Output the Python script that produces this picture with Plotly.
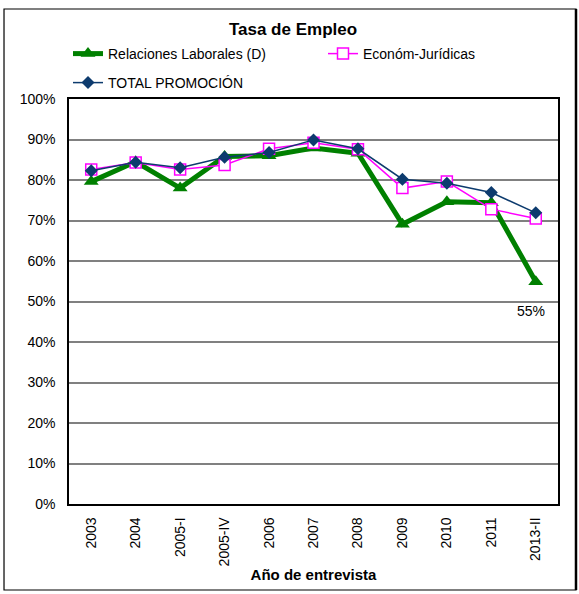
import plotly.graph_objects as go

categories = ["2003", "2004", "2005-I", "2005-IV", "2006", "2007", "2008",
              "2009", "2010", "2011", "2013-II"]
relaciones_laborales = [0.796, 0.845, 0.780, 0.858, 0.860, 0.879, 0.866,
                        0.691, 0.746, 0.744, 0.549]
econom_juridicas = [0.826, 0.843, 0.826, 0.837, 0.877, 0.892, 0.876,
                    0.780, 0.796, 0.728, 0.705]
total_promocion = [0.823, 0.844, 0.830, 0.856, 0.868, 0.899, 0.877,
                   0.802, 0.792, 0.769, 0.719]
y_ticks = [i / 10 for i in range(11)]

FONT = "Arial, Liberation Sans, sans-serif"

fig = go.Figure()
fig.add_trace(go.Scatter(
    x=categories, y=relaciones_laborales, name="Relaciones Laborales (D)",
    mode="lines+markers", line=dict(color="#008000", width=5),
    marker=dict(symbol="triangle-up", size=13, color="#008000"),
    legend="legend"))
fig.add_trace(go.Scatter(
    x=categories, y=econom_juridicas, name="Económ-Jurídicas",
    mode="lines+markers", line=dict(color="#FF00FF", width=1.5),
    marker=dict(symbol="square", size=11, color="white",
                line=dict(color="#FF00FF", width=1.5)),
    legend="legend2"))
fig.add_trace(go.Scatter(
    x=categories, y=total_promocion, name="TOTAL PROMOCIÓN",
    mode="lines+markers", line=dict(color="#0D3B6E", width=1.5),
    marker=dict(symbol="diamond", size=10, color="#0D3B6E"),
    legend="legend3"))

# data label for last green point
fig.add_annotation(x=categories[-1], y=relaciones_laborales[-1],
                   text=f"{round(relaciones_laborales[-1]*100)}%",
                   showarrow=False, yshift=-29, xshift=-5,
                   font=dict(family=FONT, size=14, color="black"))

# outer chart frame
fig.add_shape(type="rect", xref="paper", yref="paper",
              x0=-0.1329, x1=1.0368, y0=-0.2123, y1=1.2222,
              line=dict(color="black", width=1.2), layer="below")
fig.add_shape(type="line", xref="paper", yref="paper",
              x0=1.0368, x1=1.0368, y0=-0.2123, y1=1.2222,
              line=dict(color="black", width=2.5))


def legend_box(x_px, y_px):
    return dict(orientation="h", xref="container", yref="container",
                x=x_px / 579, xanchor="left", y=1 - y_px / 594,
                yanchor="middle",
                font=dict(family=FONT, size=14, color="black"),
                bgcolor="rgba(0,0,0,0)", borderwidth=0)


fig.update_layout(
    width=579, height=594,
    margin=dict(l=69, r=21, t=99, b=90, autoexpand=False),
    paper_bgcolor="white", plot_bgcolor="white",
    font=dict(family=FONT, size=14, color="black"),
    title=dict(text="<b>Tasa de Empleo</b>", x=293/579, xanchor="center",
               y=1-29/594, yanchor="middle",
               font=dict(family=FONT, size=17, color="black")),
    showlegend=True,
    legend=legend_box(68, 54),
    legend2=legend_box(323, 54),
    legend3=legend_box(68, 83),
    xaxis=dict(type="category", categoryorder="array", categoryarray=categories,
               range=[-0.5, len(categories) - 0.5],
               tickangle=-90, showgrid=False, showline=True, mirror=True,
               linecolor="black", linewidth=1.5, ticks="",
               ticklabelstandoff=6,
               tickfont=dict(family=FONT, size=14, color="black"),
               title=dict(text="<b>Año de entrevista</b>", standoff=4,
                          font=dict(family=FONT, size=15, color="black"))),
    yaxis=dict(range=[0, 1], tickvals=y_ticks, tickformat=".0%",
               showgrid=True, gridcolor="#808080", gridwidth=2,
               showline=True, mirror=True, linecolor="black", linewidth=1.5,
               ticks="", zeroline=False, ticklen=0, ticklabelstandoff=9,
               tickfont=dict(family=FONT, size=14, color="black")),
    yaxis2=dict(range=[0, 1], overlaying="y", side="left",
                tickvals=y_ticks[::2], showticklabels=False,
                showgrid=True, gridcolor="black", gridwidth=1,
                zeroline=False, showline=False),
)

fig.write_html("out.html",
               config={"displayModeBar": False},
               post_script="document.body.style.margin='0';"
                           "document.body.style.overflow='hidden';")
